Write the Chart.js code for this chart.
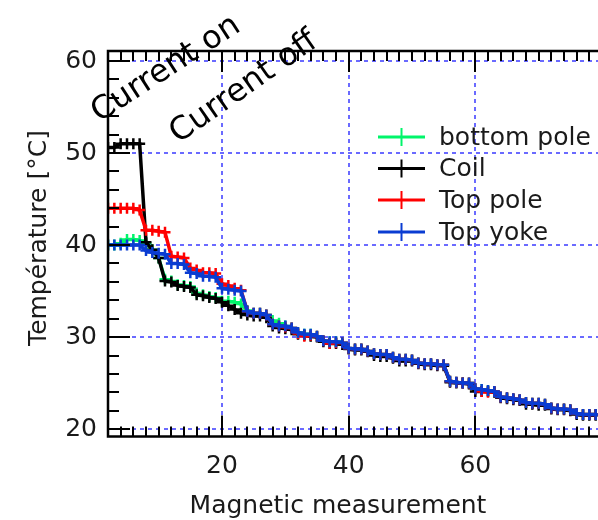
<!DOCTYPE html>
<html>
<head>
<meta charset="utf-8">
<script src="https://cdn.jsdelivr.net/npm/chart.js@4"></script>
<style>
  html, body { margin: 0; padding: 0; background: #fff; overflow: hidden; }
  #wrap { width: 598px; height: 520px; overflow: hidden; }
</style>
</head>
<body>
<div id="wrap"><canvas id="chart" width="610" height="520"></canvas></div>
<script>
// magnetic measurement index
const xValues = [2, 3, 4, 5, 6, 7, 8, 9, 10, 11, 12, 13, 14, 15, 16, 17, 18, 19, 20,
  21, 22, 23, 24, 25, 26, 27, 28, 29, 30, 31, 32, 33, 34, 35, 36, 37, 38, 39, 40,
  41, 42, 43, 44, 45, 46, 47, 48, 49, 50, 51, 52, 53, 54, 55, 56, 57, 58, 59, 60,
  61, 62, 63, 64, 65, 66, 67, 68, 69, 70, 71, 72, 73, 74, 75, 76, 77, 78, 79];

const seriesNames = ['bottom pole', 'Coil', 'Top pole', 'Top yoke'];
const seriesColors = ['#00f56a', '#000000', '#ff0000', '#0a3cd2'];

const bottomPole = [40.0, 40.0, 40.2, 40.6, 40.6, 40.5, 40.2, 39.5, 38.6, 36.3, 36.1, 35.7, 35.6, 35.5, 34.8, 34.6, 34.4, 34.3, 33.9,
  33.9, 33.8, 33.6, 32.9, 32.6, 32.6, 32.4, 31.8, 31.5, 31.2, 31.0, 30.5, 30.3, 30.3, 30.1, 29.6, 29.5, 29.5, 29.4, 28.8,
  28.7, 28.7, 28.5, 28.2, 28.1, 28.1, 27.8, 27.6, 27.6, 27.5, 27.2, 27.1, 27.1, 27.0, 27.0, 25.2, 25.1, 25.0, 25.0, 24.4,
  24.3, 24.2, 24.1, 23.5, 23.4, 23.3, 23.2, 22.9, 22.8, 22.8, 22.7, 22.3, 22.2, 22.2, 22.1, 21.7, 21.6, 21.6, 21.6];

const coil = [50.6, 50.6, 51.0, 51.0, 51.0, 51.0, 40.3, 39.5, 38.6, 36.1, 36.0, 35.6, 35.5, 35.4, 34.6, 34.5, 34.3, 34.2, 33.8,
  33.4, 33.0, 32.6, 32.4, 32.3, 32.3, 32.1, 31.2, 31.0, 30.9, 30.8, 30.3, 30.2, 30.1, 30.0, 29.5, 29.3, 29.3, 29.2, 28.7,
  28.6, 28.6, 28.4, 28.0, 27.9, 27.9, 27.7, 27.4, 27.4, 27.4, 27.1, 27.0, 27.0, 26.9, 26.9, 25.1, 25.0, 25.0, 24.9, 24.1,
  24.1, 24.1, 24.0, 23.4, 23.3, 23.2, 23.1, 22.7, 22.7, 22.6, 22.6, 22.2, 22.1, 22.1, 22.0, 21.6, 21.5, 21.5, 21.5];

const topPole = [44.0, 44.0, 44.0, 44.0, 44.0, 43.8, 41.6, 41.6, 41.5, 41.4, 38.8, 38.7, 38.6, 37.5, 37.3, 37.0, 37.0, 36.9, 35.8,
  35.6, 35.3, 35.1, 32.8, 32.6, 32.6, 32.4, 31.4, 31.2, 31.1, 31.0, 30.4, 30.1, 30.2, 30.1, 29.6, 29.3, 29.4, 29.4, 28.8,
  28.7, 28.7, 28.5, 28.2, 28.1, 28.1, 27.8, 27.6, 27.6, 27.5, 27.2, 27.1, 27.1, 27.0, 27.0, 25.2, 25.1, 25.0, 25.0, 24.4,
  24.1, 24.0, 24.1, 23.5, 23.4, 23.3, 23.2, 22.9, 22.8, 22.8, 22.7, 22.3, 22.2, 22.2, 22.1, 21.7, 21.6, 21.6, 21.6];

const topYoke = [40.0, 40.0, 40.0, 40.0, 40.0, 40.0, 39.4, 39.2, 39.1, 39.0, 38.0, 38.0, 37.9, 37.0, 36.9, 36.6, 36.6, 36.5, 35.3,
  35.2, 35.1, 35.0, 32.8, 32.6, 32.6, 32.4, 31.4, 31.2, 31.2, 31.0, 30.5, 30.3, 30.3, 30.1, 29.6, 29.5, 29.5, 29.4, 28.8,
  28.7, 28.7, 28.5, 28.2, 28.1, 28.1, 27.8, 27.6, 27.6, 27.5, 27.2, 27.1, 27.1, 27.0, 27.0, 25.2, 25.1, 25.0, 25.0, 24.4,
  24.3, 24.2, 24.1, 23.5, 23.4, 23.3, 23.2, 22.9, 22.8, 22.8, 22.7, 22.3, 22.2, 22.2, 22.1, 21.7, 21.6, 21.6, 21.6];

const xMajorTicks = [20, 40, 60];
const yMajorTicks = [20, 30, 40, 50, 60];
const xMinorStep = 2;
const yMinorStep = 2;

const annotations = [
  { text: 'Current on', x: 0.6, y: 53.3, angle: -33 },
  { text: 'Current off', x: 13.1, y: 51.0, angle: -35 }
];

const FONT = '"DejaVu Sans", sans-serif';
const GRID_BLUE = '#6a6aff';

// draw order: blue on top, then red, black, green
const drawOrder = [3, 2, 1, 0];
const seriesValues = [bottomPole, coil, topPole, topYoke];

function makeDataset(i) {
  return {
    label: seriesNames[i],
    data: xValues.map((x, k) => ({ x: x, y: seriesValues[i][k] })),
    borderColor: seriesColors[i],
    backgroundColor: seriesColors[i],
    borderWidth: 3.5,
    pointStyle: 'cross',
    pointRadius: 5.5,
    pointBorderWidth: 2.5,
    pointBorderColor: seriesColors[i],
    tension: 0,
    fill: false,
    order: drawOrder[i]
  };
}

// frame, inward tick marks, titles, legend and the two notes
const decorations = {
  id: 'decorations',
  afterDraw(chart) {
    const ctx = chart.ctx;
    const a = chart.chartArea;
    const xs = chart.scales.x;
    const ys = chart.scales.y;
    ctx.save();

    // ticks
    ctx.strokeStyle = '#000';
    ctx.lineWidth = 2;
    ctx.beginPath();
    for (let v = 2; v <= 80; v += xMinorStep) {
      const px = Math.round(xs.getPixelForValue(v));
      const len = v % 20 === 0 ? 21 : 10;
      ctx.moveTo(px, a.bottom); ctx.lineTo(px, a.bottom - len);
      ctx.moveTo(px, a.top); ctx.lineTo(px, a.top + len);
    }
    for (let v = 20; v <= 60; v += yMinorStep) {
      const py = Math.round(ys.getPixelForValue(v));
      const len = v % 10 === 0 ? 22 : 11;
      ctx.moveTo(a.left, py); ctx.lineTo(a.left + len, py);
    }
    ctx.stroke();

    // frame
    ctx.lineWidth = 2.5;
    ctx.beginPath();
    ctx.moveTo(a.right + 5, a.top);
    ctx.lineTo(a.left, a.top);
    ctx.lineTo(a.left, a.bottom);
    ctx.lineTo(a.right + 5, a.bottom);
    ctx.stroke();

    // axis titles
    ctx.fillStyle = '#1a1a1a';
    ctx.font = '25px ' + FONT;
    ctx.textAlign = 'center';
    ctx.textBaseline = 'alphabetic';
    ctx.fillText('Magnetic measurement', 338, 513);
    ctx.save();
    ctx.translate(46, 238);
    ctx.rotate(-Math.PI / 2);
    ctx.fillText('Température [°C]', 0, 0);
    ctx.restore();

    // legend
    const rows = [137, 168.5, 200, 232];
    ctx.textAlign = 'left';
    ctx.textBaseline = 'middle';
    seriesNames.forEach((name, i) => {
      const y = rows[i];
      ctx.strokeStyle = seriesColors[i];
      ctx.lineWidth = 3;
      ctx.beginPath();
      ctx.moveTo(378, y); ctx.lineTo(425, y);
      ctx.stroke();
      ctx.lineWidth = 2;
      ctx.beginPath();
      ctx.moveTo(401.5, y - 9); ctx.lineTo(401.5, y + 9);
      ctx.stroke();
      ctx.fillStyle = '#1a1a1a';
      ctx.fillText(name, 439, y + 1);
    });

    // notes
    ctx.fillStyle = '#000';
    ctx.font = '32px ' + FONT;
    ctx.textBaseline = 'alphabetic';
    annotations.forEach(n => {
      ctx.save();
      ctx.translate(xs.getPixelForValue(n.x), ys.getPixelForValue(n.y));
      ctx.rotate(n.angle * Math.PI / 180);
      ctx.fillText(n.text, 0, 0);
      ctx.restore();
    });

    ctx.restore();
  }
};

new Chart(document.getElementById('chart'), {
  type: 'line',
  data: { datasets: [0, 1, 2, 3].map(makeDataset) },
  options: {
    responsive: false,
    animation: false,
    devicePixelRatio: 1,
    layout: { padding: { top: 51, left: 0, right: 0, bottom: 0 } },
    plugins: { legend: { display: false }, tooltip: { enabled: false } },
    scales: {
      x: {
        type: 'linear',
        min: 2,
        max: 80,
        afterBuildTicks: s => { s.ticks = xMajorTicks.map(v => ({ value: v })); },
        afterFit: s => { s.height = 83.5; },
        grid: { color: GRID_BLUE, lineWidth: 2, drawTicks: false },
        border: { display: false, dash: [4, 4] },
        ticks: { color: '#1a1a1a', font: { family: FONT, size: 25 }, padding: 15, maxRotation: 0 }
      },
      y: {
        type: 'linear',
        min: 19.2,
        max: 61.09,
        afterBuildTicks: s => { s.ticks = yMajorTicks.map(v => ({ value: v })); },
        afterFit: s => { s.width = 108; },
        grid: { color: GRID_BLUE, lineWidth: 2, drawTicks: false },
        border: { display: false, dash: [4, 4] },
        ticks: { color: '#1a1a1a', font: { family: FONT, size: 25 }, padding: 11 }
      }
    }
  },
  plugins: [decorations]
});
</script>
</body>
</html>
